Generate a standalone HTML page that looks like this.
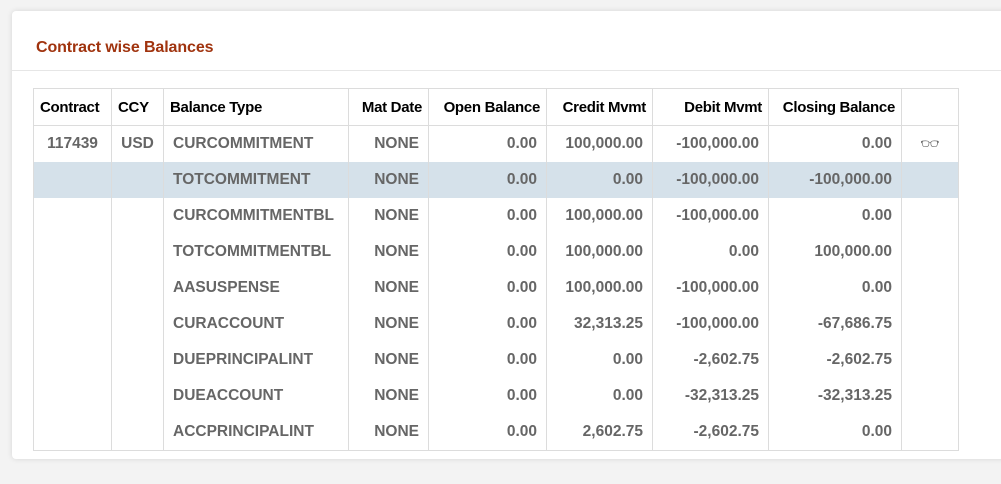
<!DOCTYPE html><html><head><style>
body{margin:0;width:1001px;height:484px;background:#f3f3f3;font-family:"Liberation Sans",sans-serif;overflow:hidden;position:relative}
.card{position:absolute;left:12px;top:11px;width:1000px;height:448px;background:#fff;border-radius:4px;box-shadow:0 0 6px rgba(0,0,0,.12)}
.hd{position:absolute;left:0;right:0;top:0;height:59px;border-bottom:1px solid #e6e6e6}
.hd span{position:absolute;left:24px;top:28px;font-size:16px;font-weight:bold;color:#a0330e;letter-spacing:-0.1px}
table{position:absolute;left:21px;top:77px;border-collapse:collapse;font-size:15.5px;font-weight:bold;letter-spacing:0;table-layout:fixed;width:926px}
td,th{border-left:1px solid #dcdcdc;border-right:1px solid #dcdcdc;padding:0 9px;height:36px;white-space:nowrap;color:#666;overflow:hidden}
th{color:#000;height:36px;border:1px solid #dcdcdc;text-align:left;padding:0 6px;font-size:15px;letter-spacing:-0.3px}
tr:last-child td{border-bottom:1px solid #dcdcdc}
tr.hl td{background:#d5e1ea}
.r{text-align:right}.c{text-align:center}
</style></head><body><div class="card"><div class="hd"><span>Contract wise Balances</span></div>
<table>
<colgroup><col style="width:78px"><col style="width:52px"><col style="width:185px"><col style="width:80px"><col style="width:118px"><col style="width:106px"><col style="width:116px"><col style="width:133px"><col style="width:57px"></colgroup>
<tr><th>Contract</th><th>CCY</th><th>Balance Type</th><th class="r">Mat Date</th><th class="r">Open Balance</th><th class="r">Credit Mvmt</th><th class="r">Debit Mvmt</th><th class="r">Closing Balance</th><th></th></tr>
<tr><td class="c">117439</td><td class="c">USD</td><td>CURCOMMITMENT</td><td class="r">NONE</td><td class="r">0.00</td><td class="r">100,000.00</td><td class="r">-100,000.00</td><td class="r">0.00</td><td class="c" style="font-weight:normal">&#x1F453;&#xFE0E;</td></tr>
<tr class="hl"><td></td><td></td><td>TOTCOMMITMENT</td><td class="r">NONE</td><td class="r">0.00</td><td class="r">0.00</td><td class="r">-100,000.00</td><td class="r">-100,000.00</td><td></td></tr>
<tr><td></td><td></td><td>CURCOMMITMENTBL</td><td class="r">NONE</td><td class="r">0.00</td><td class="r">100,000.00</td><td class="r">-100,000.00</td><td class="r">0.00</td><td></td></tr>
<tr><td></td><td></td><td>TOTCOMMITMENTBL</td><td class="r">NONE</td><td class="r">0.00</td><td class="r">100,000.00</td><td class="r">0.00</td><td class="r">100,000.00</td><td></td></tr>
<tr><td></td><td></td><td>AASUSPENSE</td><td class="r">NONE</td><td class="r">0.00</td><td class="r">100,000.00</td><td class="r">-100,000.00</td><td class="r">0.00</td><td></td></tr>
<tr><td></td><td></td><td>CURACCOUNT</td><td class="r">NONE</td><td class="r">0.00</td><td class="r">32,313.25</td><td class="r">-100,000.00</td><td class="r">-67,686.75</td><td></td></tr>
<tr><td></td><td></td><td>DUEPRINCIPALINT</td><td class="r">NONE</td><td class="r">0.00</td><td class="r">0.00</td><td class="r">-2,602.75</td><td class="r">-2,602.75</td><td></td></tr>
<tr><td></td><td></td><td>DUEACCOUNT</td><td class="r">NONE</td><td class="r">0.00</td><td class="r">0.00</td><td class="r">-32,313.25</td><td class="r">-32,313.25</td><td></td></tr>
<tr><td></td><td></td><td>ACCPRINCIPALINT</td><td class="r">NONE</td><td class="r">0.00</td><td class="r">2,602.75</td><td class="r">-2,602.75</td><td class="r">0.00</td><td></td></tr>
</table></div></body></html>
